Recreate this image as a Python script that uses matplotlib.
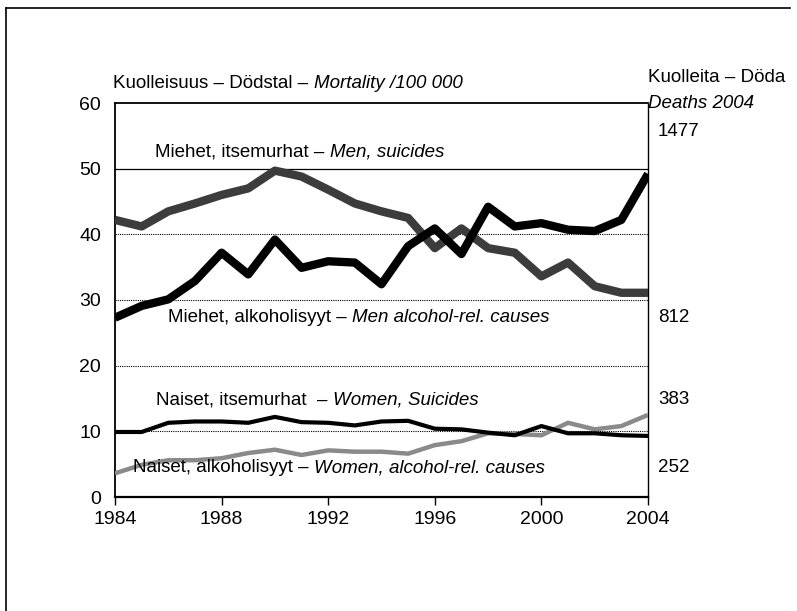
import matplotlib
matplotlib.use("Agg")
import matplotlib.pyplot as plt
from matplotlib.lines import Line2D

plt.rcParams['font.family'] = ['Liberation Sans', 'DejaVu Sans']

years = list(range(1984, 2005))
men_suicides = [42.2, 41.2, 43.5, 44.7, 46.0, 47.0, 49.7, 48.8, 46.8, 44.7, 43.5, 42.5,
                37.9, 40.9, 37.9, 37.2, 33.6, 35.7, 32.1, 31.1, 31.1]
men_alcohol = [27.3, 29.1, 30.1, 32.9, 37.2, 33.9, 39.2, 34.9, 35.9, 35.7, 32.4, 38.2,
               40.9, 37.0, 44.2, 41.2, 41.7, 40.7, 40.5, 42.2, 49.2]
women_suicides = [9.9, 9.9, 11.3, 11.5, 11.5, 11.3, 12.2, 11.4, 11.3, 10.9, 11.5, 11.6,
                  10.4, 10.3, 9.8, 9.4, 10.8, 9.7, 9.7, 9.4, 9.3]
women_alcohol = [3.6, 4.9, 5.6, 5.6, 5.9, 6.7, 7.2, 6.4, 7.1, 6.9, 6.9, 6.6,
                 7.9, 8.5, 9.7, 9.6, 9.4, 11.3, 10.3, 10.8, 12.5]
deaths_2004 = ["1477", "812", "383", "252"]
xticks = [1984, 1988, 1992, 1996, 2000, 2004]
yticks = [0, 10, 20, 30, 40, 50, 60]

W, H = 797, 611
fig = plt.figure(figsize=(W / 100, H / 100), dpi=100)

def fx(px):
    return px / W

def fy(py):
    return 1 - py / H

ax = fig.add_axes([fx(115), fy(497), fx(648) - fx(115), fy(103) - fy(497)])

ax.set_xlim(1984, 2004)
ax.set_ylim(0, 60)

# grid lines
for v in yticks[1:5]:
    ax.axhline(v, color='black', lw=0.8, ls=(0, (1, 1)), zorder=1)
ax.axhline(50, color='black', lw=0.9, zorder=1)

# data lines
ax.plot(years, men_suicides, color='#3c3c3c', lw=6.0, solid_capstyle='butt',
        solid_joinstyle='round', zorder=3)
ax.plot(years, men_alcohol, color='black', lw=6.0, solid_capstyle='butt',
        solid_joinstyle='round', zorder=4)
ax.plot(years, women_alcohol, color='#8a8a8a', lw=3.2, solid_capstyle='butt',
        solid_joinstyle='round', zorder=3)
ax.plot(years, women_suicides, color='black', lw=3.0, solid_capstyle='butt',
        solid_joinstyle='round', zorder=4)

# spines
for s in ['left', 'top', 'bottom']:
    ax.spines[s].set_color('black')
ax.spines['left'].set_linewidth(1.3)
ax.spines['top'].set_linewidth(1.3)
ax.spines['bottom'].set_linewidth(1.6)
ax.spines['right'].set_linewidth(1.0)
ax.spines['right'].set_linestyle((0, (1, 1)))

ax.set_xticks(xticks)
ax.set_xticklabels([str(t) for t in xticks])
ax.set_yticks(yticks)
ax.set_yticklabels([str(t) for t in yticks])
ax.tick_params(axis='x', direction='out', length=6, width=1.0, pad=4, labelsize=14)
ax.tick_params(axis='y', length=0, pad=10, labelsize=14)
ax.set_facecolor('white')

FS = 13.5

def two_part(px, py, regular, italic):
    t1 = fig.text(fx(px), fy(py), regular, fontsize=FS, ha='left', va='center')
    if italic:
        fig.canvas.draw()
        ax.annotate(italic, xy=(1, 0), xycoords=t1, ha='left', va='bottom',
                    fontsize=FS, style='italic', annotation_clip=False)
    return t1

two_part(113, 83, "Kuolleisuus – Dödstal – ", "Mortality /100 000")
fig.text(fx(648), fy(78), "Kuolleita – Döda", fontsize=FS, ha='left', va='center')
fig.text(fx(648), fy(104), "Deaths 2004", fontsize=FS, ha='left', va='center', style='italic')

two_part(155, 152, "Miehet, itsemurhat – ", "Men, suicides")
two_part(168, 317, "Miehet, alkoholisyyt – ", "Men alcohol-rel. causes")
two_part(156, 400, "Naiset, itsemurhat  – ", "Women, Suicides")
two_part(133, 468, "Naiset, alkoholisyyt – ", "Women, alcohol-rel. causes")

for lab, py in zip(deaths_2004, [132, 317, 400, 468]):
    fig.text(fx(658), fy(py), lab, fontsize=FS, ha='left', va='center')

# outer frame (partially visible)
fig.add_artist(Line2D([fx(6), fx(6)], [fy(8), 0], transform=fig.transFigure,
                      color='black', lw=1.2))
fig.add_artist(Line2D([fx(6), fx(790)], [fy(8), fy(8)], transform=fig.transFigure,
                      color='black', lw=1.2))

fig.savefig("out.png", dpi=100, facecolor='white')
